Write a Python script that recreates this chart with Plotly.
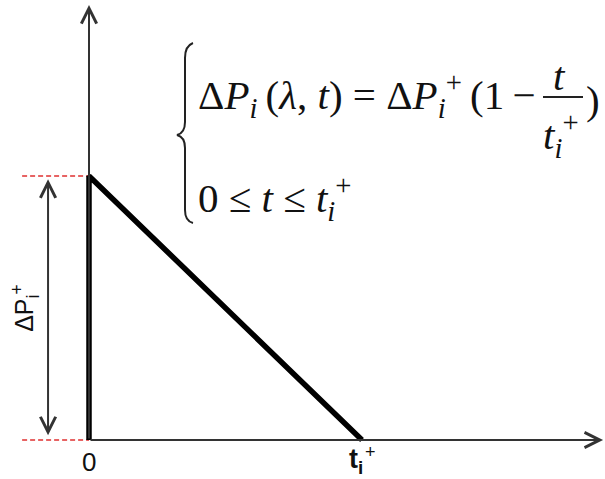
import plotly.graph_objects as go

W, H = 605, 479

# triangular pulse: dP(t) = dP+ (1 - t / t+), 0 <= t <= t+
T_PLUS = 1.0
DP_PLUS = 1.0
pulse_t = [0.0, 0.0, T_PLUS]
pulse_p = [0.0, DP_PLUS, 0.0]

# reference dashes to the left of the vertical axis
ref_levels = [0.0, DP_PLUS]

x_range = [-0.326, 1.890]
y_range = [-0.1477, 1.6667]

SERIF = "Liberation Serif"
SANS = "Liberation Sans"
AXIS_COL = "#333333"
TS = "\u2009"  # thin space


def px(x, y):
    # pixel -> paper coords (margins are zero)
    return x / W, 1 - y / H


fig = go.Figure()

for lv in ref_levels:
    fig.add_trace(go.Scatter(
        x=[-0.245, 0], y=[lv, lv], mode="lines",
        line=dict(color="#e03030", width=1.5, dash="5px,3px"),
        hoverinfo="skip", showlegend=False,
    ))

fig.add_trace(go.Scatter(
    x=pulse_t, y=pulse_p, mode="lines",
    line=dict(color="black", width=5.5),
    hoverinfo="skip", showlegend=False,
))

arrows = [
    # x axis, y axis, dP span
    dict(x=1.883, y=0, ax=0, ay=0, arrowside="end"),
    dict(x=0, y=1.648, ax=0, ay=0, arrowside="end"),
    dict(x=-0.15, y=DP_PLUS - 0.012, ax=-0.15, ay=0.012, arrowside="end+start"),
]
for a in arrows:
    fig.add_annotation(
        x=a["x"], y=a["y"], ax=a["ax"], ay=a["ay"],
        xref="x", yref="y", axref="x", ayref="y",
        text="", showarrow=True, arrowside=a["arrowside"],
        arrowhead=5, startarrowhead=5, arrowsize=1.5, startarrowsize=1.5,
        arrowwidth=2, arrowcolor=AXIS_COL,
    )

# axis labels
lab_font = dict(family=SANS, size=26, color="#111")
fig.add_annotation(x=0, y=-0.085, text="0", showarrow=False, yanchor="middle",
                   font=lab_font)
fig.add_annotation(x=T_PLUS + 0.01, y=-0.078, text="t<sub>i</sub>", showarrow=False,
                   xanchor="right", yanchor="middle",
                   font=dict(family=SANS, size=27, color="#111", weight="bold"))
fig.add_annotation(x=T_PLUS + 0.003, y=-0.046, text="+", showarrow=False,
                   xanchor="left", yanchor="middle", font=dict(family=SANS, size=18, color="#111"))
fig.add_annotation(x=-0.235, y=DP_PLUS / 2, text="ΔP<sub>i</sub><sup>+</sup>", showarrow=False,
                   textangle=-90, font=dict(family=SANS, size=25, color="#111"))

# equation block
eq_font = dict(family=SERIF, size=41, color="#111")
line1 = ("Δ<i>P</i><sub><i>i</i></sub>" + TS + "(<i>λ</i>, <i>t</i>) = Δ<i>P</i>"
         "<sub><i>i</i></sub><sup>+</sup>" + TS + "(1" + TS + "−")
fig.add_annotation(x=px(196, 0)[0], y=px(0, 95)[1], xref="paper", yref="paper",
                   text=line1, showarrow=False,
                   xanchor="left", yanchor="middle", font=eq_font)
fig.add_annotation(x=px(559, 0)[0], y=px(0, 76)[1], xref="paper", yref="paper",
                   text="<i>t</i>", showarrow=False, xanchor="center", yanchor="middle",
                   font=eq_font)
fig.add_annotation(x=px(561, 0)[0], y=px(0, 135)[1], xref="paper", yref="paper",
                   text="<i>t</i><sub><i>i</i></sub><sup>+</sup>", showarrow=False,
                   xanchor="center", yanchor="middle", font=eq_font)
fig.add_annotation(x=px(584, 0)[0], y=px(0, 100)[1], xref="paper", yref="paper",
                   text=")", showarrow=False, xanchor="left", yanchor="middle",
                   font=eq_font)
fig.add_annotation(x=px(196, 0)[0], y=px(0, 198)[1], xref="paper", yref="paper",
                   text="0 ≤ <i>t</i> ≤ <i>t</i><sub><i>i</i></sub><sup>+</sup>", showarrow=False,
                   xanchor="left", yanchor="middle", font=eq_font)

# fraction bar
x0, y0 = px(543, 97)
x1, _ = px(583, 97)
fig.add_shape(type="line", xref="paper", yref="paper", x0=x0, y0=y0, x1=x1, y1=y0,
              line=dict(color="#222", width=2))

# curly brace
pts = [(193, 43), (185, 46), (185, 58), (185, 122), (185, 133), (177, 135),
       (185, 137), (185, 148), (185, 210), (185, 221), (193, 223)]
p = [px(*q) for q in pts]
path = (f"M{p[0][0]},{p[0][1]} Q{p[1][0]},{p[1][1]} {p[2][0]},{p[2][1]} "
        f"L{p[3][0]},{p[3][1]} Q{p[4][0]},{p[4][1]} {p[5][0]},{p[5][1]} "
        f"Q{p[6][0]},{p[6][1]} {p[7][0]},{p[7][1]} L{p[8][0]},{p[8][1]} "
        f"Q{p[9][0]},{p[9][1]} {p[10][0]},{p[10][1]}")
fig.add_shape(type="path", xref="paper", yref="paper", path=path,
              line=dict(color="#222", width=2))

fig.update_layout(
    width=W, height=H,
    margin=dict(l=0, r=0, t=0, b=0),
    paper_bgcolor="white", plot_bgcolor="white",
    xaxis=dict(range=x_range, visible=False, fixedrange=True),
    yaxis=dict(range=y_range, visible=False, fixedrange=True),
    showlegend=False,
)

fig.write_html("out.html", config={"displayModeBar": False},
               post_script="document.body.style.margin='0';document.body.style.overflow='hidden';")
